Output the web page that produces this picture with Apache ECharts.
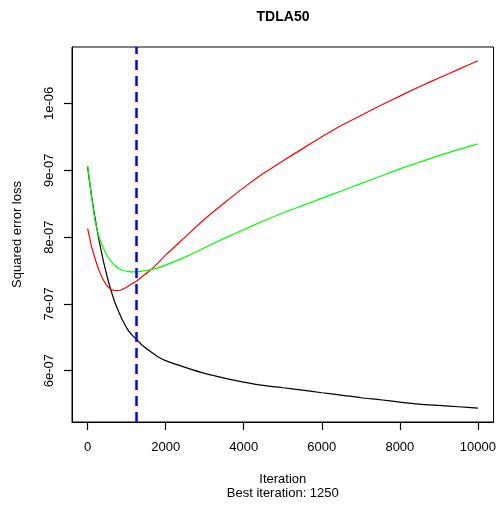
<!DOCTYPE html>
<html>
<head>
<meta charset="utf-8">
<script src="https://cdn.jsdelivr.net/npm/echarts@6/dist/echarts.min.js"></script>
<style>
html,body{margin:0;padding:0;background:#fff;}
#chart{width:499px;height:509px;}
</style>
</head>
<body>
<div id="chart"></div>
<script>
const titleText = 'TDLA50';
const bestIter = 1250;
const iterations = [0,50,100,150,200,300,400,500,600,700,800,900,1000,1100,1250,1400,1600,1800,2000,2500,3000,3500,4000,4500,5000,5500,6000,6500,7000,7500,8000,8500,9000,9500,10000];
const trainLoss = [9.05e-7,8.83e-7,8.62e-7,8.43e-7,8.25e-7,7.93e-7,7.65e-7,7.41e-7,7.20e-7,7.02e-7,6.88e-7,6.75e-7,6.64e-7,6.56e-7,6.47e-7,6.38e-7,6.29e-7,6.21e-7,6.15e-7,6.05e-7,5.96e-7,5.89e-7,5.83e-7,5.78e-7,5.745e-7,5.71e-7,5.67e-7,5.635e-7,5.595e-7,5.565e-7,5.53e-7,5.50e-7,5.48e-7,5.46e-7,5.44e-7];
const validLoss = [8.13e-7,7.99e-7,7.86e-7,7.76e-7,7.66e-7,7.49e-7,7.36e-7,7.27e-7,7.22e-7,7.20e-7,7.20e-7,7.22e-7,7.25e-7,7.29e-7,7.34e-7,7.41e-7,7.50e-7,7.61e-7,7.73e-7,8.00e-7,8.27e-7,8.51e-7,8.74e-7,8.95e-7,9.14e-7,9.32e-7,9.50e-7,9.67e-7,9.82e-7,9.97e-7,10.11e-7,10.25e-7,10.38e-7,10.51e-7,10.64e-7];
const testLoss = [9.07e-7,8.84e-7,8.60e-7,8.40e-7,8.22e-7,7.99e-7,7.84e-7,7.72e-7,7.64e-7,7.57e-7,7.53e-7,7.50e-7,7.49e-7,7.48e-7,7.48e-7,7.49e-7,7.51e-7,7.54e-7,7.58e-7,7.70e-7,7.84e-7,7.98e-7,8.11e-7,8.24e-7,8.36e-7,8.47e-7,8.58e-7,8.69e-7,8.80e-7,8.91e-7,9.02e-7,9.12e-7,9.22e-7,9.31e-7,9.395e-7];
const xTicks = [0,2000,4000,6000,8000,10000];
const yTicks = [6e-7,7e-7,8e-7,9e-7,1e-6];

const FONT = '"Liberation Sans", Arial, sans-serif';
function fmtExp(v){
  const s = Number(v).toExponential(0);
  const parts = s.split('e');
  const sign = parts[1][0] === '-' ? '-' : '+';
  const num = parts[1].replace(/^[+-]/,'');
  return parts[0] + 'e' + sign + (num.length < 2 ? '0' + num : num);
}
function pairs(ys){ return iterations.map((x,i)=>[x, ys[i]]); }

const chart = echarts.init(document.getElementById('chart'), null, {renderer:'canvas'});
const lineCommon = {type:'line', showSymbol:false, symbol:'none', smooth:0.2, animation:false, silent:true};
chart.setOption({
  animation:false,
  backgroundColor:'#fff',
  textStyle:{fontFamily:FONT},
  title:{text:titleText, left:283, top:10, textAlign:'center', padding:0,
    textStyle:{fontFamily:FONT, fontSize:14, fontWeight:'bold', color:'#000'}},
  grid:{left:72, right:5, top:47, bottom:87, show:true, borderColor:'#000', borderWidth:1, backgroundColor:'transparent'},
  xAxis:{type:'value', min:-400, max:10400, position:'bottom',
    name:'Iteration\nBest iteration: ' + bestIter, nameLocation:'middle', nameGap:50,
    nameTextStyle:{fontFamily:FONT, fontSize:13, color:'#000', lineHeight:14.5},
    axisLine:{show:true, onZero:false, lineStyle:{color:'#000', width:1}},
    splitLine:{show:false},
    axisTick:{show:true, inside:false, length:8, customValues:xTicks, lineStyle:{color:'#000', width:1.2}},
    axisLabel:{show:true, customValues:xTicks, margin:19, fontFamily:FONT, fontSize:13, color:'#000',
      formatter:v=>String(v)}
  },
  yAxis:{type:'value', min:5.232e-7, max:10.845e-7, position:'left',
    name:'Squared error loss', nameLocation:'middle', nameGap:48, nameRotate:90,
    nameTextStyle:{fontFamily:FONT, fontSize:13, color:'#000'},
    axisLine:{show:true, onZero:false, lineStyle:{color:'#000', width:1}},
    splitLine:{show:false},
    axisTick:{show:true, inside:false, length:8, customValues:yTicks, lineStyle:{color:'#000', width:1.2}},
    axisLabel:{show:true, customValues:yTicks, rotate:90, margin:16, fontFamily:FONT, fontSize:13, color:'#000',
      formatter:v=>fmtExp(v)}
  },
  series:[
    Object.assign({}, lineCommon, {name:'train', data:pairs(trainLoss), lineStyle:{color:'#000000', width:1.2}, itemStyle:{color:'#000'}, z:2}),
    Object.assign({}, lineCommon, {name:'valid', data:pairs(validLoss), lineStyle:{color:'#FF0000', width:1.2}, itemStyle:{color:'#f00'}, z:3,
      markLine:{silent:true, symbol:['none','none'], label:{show:false}, animation:false,
        lineStyle:{color:'#0000FF', width:2.5, type:[10,6]},
        data:[{xAxis:bestIter}]}}),
    Object.assign({}, lineCommon, {name:'test', data:pairs(testLoss), lineStyle:{color:'#00FF00', width:1.2}, itemStyle:{color:'#0f0'}, z:4})
  ]
});
</script>
</body>
</html>
